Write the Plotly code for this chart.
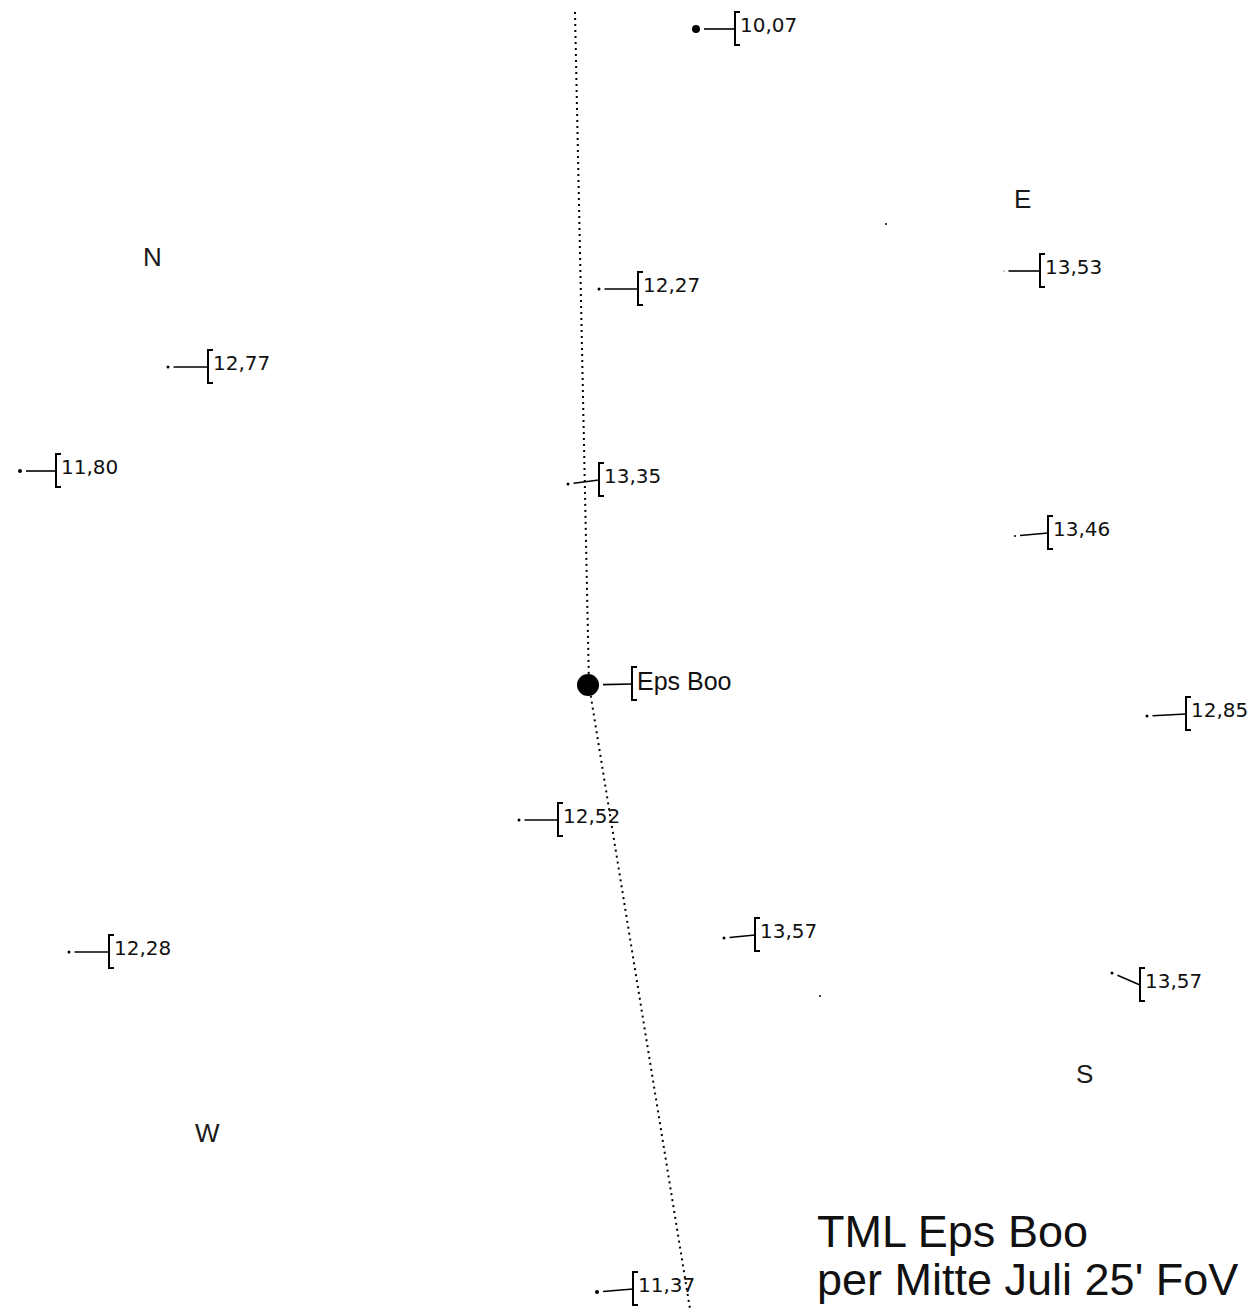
import plotly.graph_objects as go

W, H = 1256, 1309
OFF = 8  # default page body margin

# star field (chart pixel coordinates, y downward)
star_x = [696, 599, 168, 20, 568, 1004, 1015, 588, 1147, 519, 724, 69, 1112, 597, 886, 820]
star_y = [29, 289, 367, 471, 484, 271, 536, 685, 716, 820, 938, 952, 973, 1292, 224, 996]
star_d = [8, 3, 3, 4, 3, 1, 2, 22, 3, 3, 3, 3, 3, 4, 2, 2]

labels = ["10,07", "12,27", "12,77", "11,80", "13,35", "13,53", "13,46", "Eps Boo",
          "12,85", "12,52", "13,57", "12,28", "13,57", "11,37"]
label_x = [735, 638, 208, 56, 599, 1040, 1048, 632, 1186, 558, 755, 109, 1140, 633]
label_y = [29, 289, 367, 471, 480, 271, 533, 684, 714, 820, 935, 952, 985, 1289]

# dotted track
track_x = [575, 589, 690]
track_y = [12, 685, 1309]

compass = ["N", "E", "S", "W"]
compass_x = [152, 1022, 1084, 207]
compass_y = [257, 199, 1074, 1133]

title_lines = ["TML Eps Boo", "per Mitte Juli 25' FoV"]

fig = go.Figure()

# track
fig.add_trace(go.Scatter(x=track_x, y=track_y, mode="lines",
                         line=dict(color="black", width=2, dash="2px,4px"),
                         hoverinfo="skip"))

# leaders and brackets
lx, ly, bxs, bys = [], [], [], []
for i, lab in enumerate(labels):
    sx, sy = star_x[i], star_y[i]
    bx, by = label_x[i], label_y[i]
    gap = star_d[i] / 2 + 4
    lx += [sx + gap, bx, None]
    ly += [sy + (by - sy) * gap / max(bx - sx, 1), by, None]
    bxs += [bx + 5, bx, bx, bx + 5, None]
    bys += [by - 17, by - 17, by + 16, by + 16, None]

fig.add_trace(go.Scatter(x=lx, y=ly, mode="lines",
                         line=dict(color="black", width=1.6), hoverinfo="skip"))
fig.add_trace(go.Scatter(x=bxs, y=bys, mode="lines",
                         line=dict(color="black", width=2), hoverinfo="skip"))

# stars
fig.add_trace(go.Scatter(x=star_x, y=star_y, mode="markers",
                         marker=dict(color="black", size=star_d, opacity=1, line=dict(width=0)),
                         hoverinfo="skip"))

for i, lab in enumerate(labels):
    big = lab == "Eps Boo"
    fig.add_annotation(x=label_x[i] + 3, y=label_y[i], text=lab, showarrow=False,
                       xanchor="left", yanchor="middle", yshift=4 if not big else 3,
                       font=dict(family="DejaVu Sans" if not big else "Liberation Sans, Arial",
                                 size=20 if not big else 25, color="#111"))

for c, cx, cy in zip(compass, compass_x, compass_y):
    fig.add_annotation(x=cx, y=cy, text=c, showarrow=False, xanchor="center", yanchor="middle",
                       font=dict(family="Liberation Sans, Arial", size=26, color="#1a1a1a"))

for j, t in enumerate(title_lines):
    fig.add_annotation(x=815, y=1231 + 48.5 * j, text=t, showarrow=False, xanchor="left", yanchor="middle",
                       font=dict(family="Liberation Sans, Arial", size=45, color="#111"))

fig.update_layout(width=W - OFF, height=H - OFF, margin=dict(l=0, r=0, t=0, b=0),
                  paper_bgcolor="white", plot_bgcolor="white", showlegend=False,
                  xaxis=dict(range=[OFF, W], visible=False, fixedrange=True),
                  yaxis=dict(range=[H, OFF], visible=False, fixedrange=True))

fig.write_html("out.html", config={"displayModeBar": False})
